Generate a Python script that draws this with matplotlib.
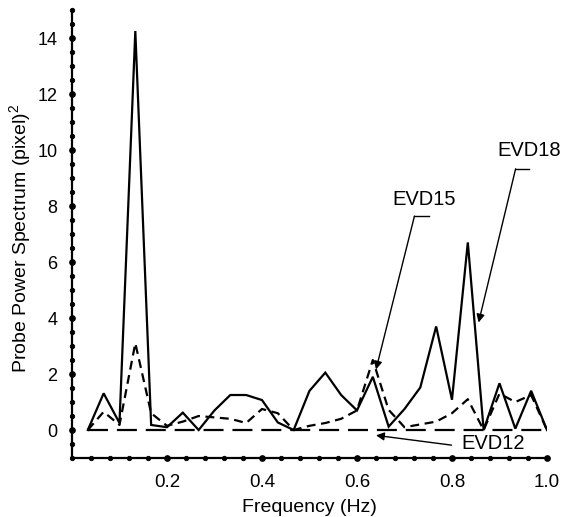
import numpy as np
import matplotlib
matplotlib.use('Agg')
import matplotlib.pyplot as plt
from matplotlib.ticker import FixedLocator, MultipleLocator

plt.rcParams['font.family'] = ['Liberation Sans', 'DejaVu Sans']
plt.rcParams['mathtext.default'] = 'regular'

# frecuencias: k/30 Hz, k = 1..30
freq = np.arange(1, 31) / 30.0

# EVD18 (linea continua)
evd18 = [0.0, 1.31, 0.25, 14.25, 0.18, 0.1, 0.62, 0.0, 0.7, 1.25,
         1.25, 1.07, 0.27, 0.0, 1.4, 2.05, 1.25, 0.7, 1.9, 0.12,
         0.75, 1.52, 3.7, 1.08, 6.7, 0.0, 1.67, 0.05, 1.4, 0.0]

# EVD15 (discontinua)
evd15 = [0.0, 0.65, 0.18, 3.1, 0.6, 0.15, 0.3, 0.5, 0.45, 0.4,
         0.25, 0.75, 0.6, 0.0, 0.15, 0.25, 0.4, 0.7, 2.5, 0.72,
         0.1, 0.2, 0.3, 0.6, 1.1, 0.0, 1.3, 1.0, 1.25, 0.0]

# EVD12 (todo ceros)
evd12 = [0.0] * 30

fig = plt.figure(figsize=(5.69, 5.17), dpi=100)
ax = fig.add_axes([0.1265, 0.1141, 0.8348, 0.8665])

ax.plot(freq, evd18, color='black', lw=1.6, solid_joinstyle='miter')
ax.plot(freq, evd15, color='black', lw=1.6, dashes=(4, 2.5))
ax.plot(freq, evd12, color='black', lw=1.6, dashes=(9, 4))

ax.set_xlim(0, 1.0)
ax.set_ylim(-1, 15)

ax.xaxis.set_major_locator(FixedLocator([0.2, 0.4, 0.6, 0.8, 1.0]))
ax.xaxis.set_minor_locator(FixedLocator(np.arange(1, 26) * 0.04))
ax.set_xticklabels(['0.2', '0.4', '0.6', '0.8', '1.0'])
ax.yaxis.set_major_locator(FixedLocator(np.arange(0, 15, 2)))
ax.yaxis.set_minor_locator(MultipleLocator(0.5))

for s in ['top', 'right']:
    ax.spines[s].set_visible(False)
for s in ['left', 'bottom']:
    ax.spines[s].set_linewidth(1.6)

ax.tick_params(axis='x', labelsize=13.5, pad=8)
ax.tick_params(axis='y', labelsize=13, pad=7)
ax.set_xlabel('Frequency (Hz)', fontsize=14, labelpad=6)
ax.set_ylabel('Probe Power Spectrum (pixel)$^2$', fontsize=14)
ax.yaxis.set_label_coords(-0.083, 0.49)

fig.canvas.draw()
# ticks como puntos sobre el eje
for tl in ax.xaxis.get_majorticklines() + ax.yaxis.get_majorticklines():
    tl.set_marker('o')
    tl.set_markersize(4)
    tl.set_color('black')
for tl in ax.xaxis.get_minorticklines() + ax.yaxis.get_minorticklines():
    tl.set_marker('o')
    tl.set_markersize(3.2)
    tl.set_color('black')

# anotaciones
arrow = dict(arrowstyle='-|>', color='black', lw=1.0, mutation_scale=12,
             shrinkA=0, shrinkB=0)

ax.annotate('', xy=(0.64, 2.16), xytext=(0.721, 7.64), arrowprops=arrow)
ax.plot([0.721, 0.751], [7.64, 7.64], color='black', lw=1.0)
ax.text(0.741, 8.25, 'EVD15', fontsize=14.5, ha='center', va='center')

ax.annotate('', xy=(0.856, 3.84), xytext=(0.934, 9.33), arrowprops=arrow)
ax.plot([0.934, 0.962], [9.33, 9.33], color='black', lw=1.0)
ax.text(0.962, 10.0, 'EVD18', fontsize=14.5, ha='center', va='center')

ax.annotate('', xy=(0.64, -0.19), xytext=(0.799, -0.54), arrowprops=arrow)
ax.text(0.887, -0.48, 'EVD12', fontsize=14.5, ha='center', va='center')

fig.savefig('out.png', dpi=100)
